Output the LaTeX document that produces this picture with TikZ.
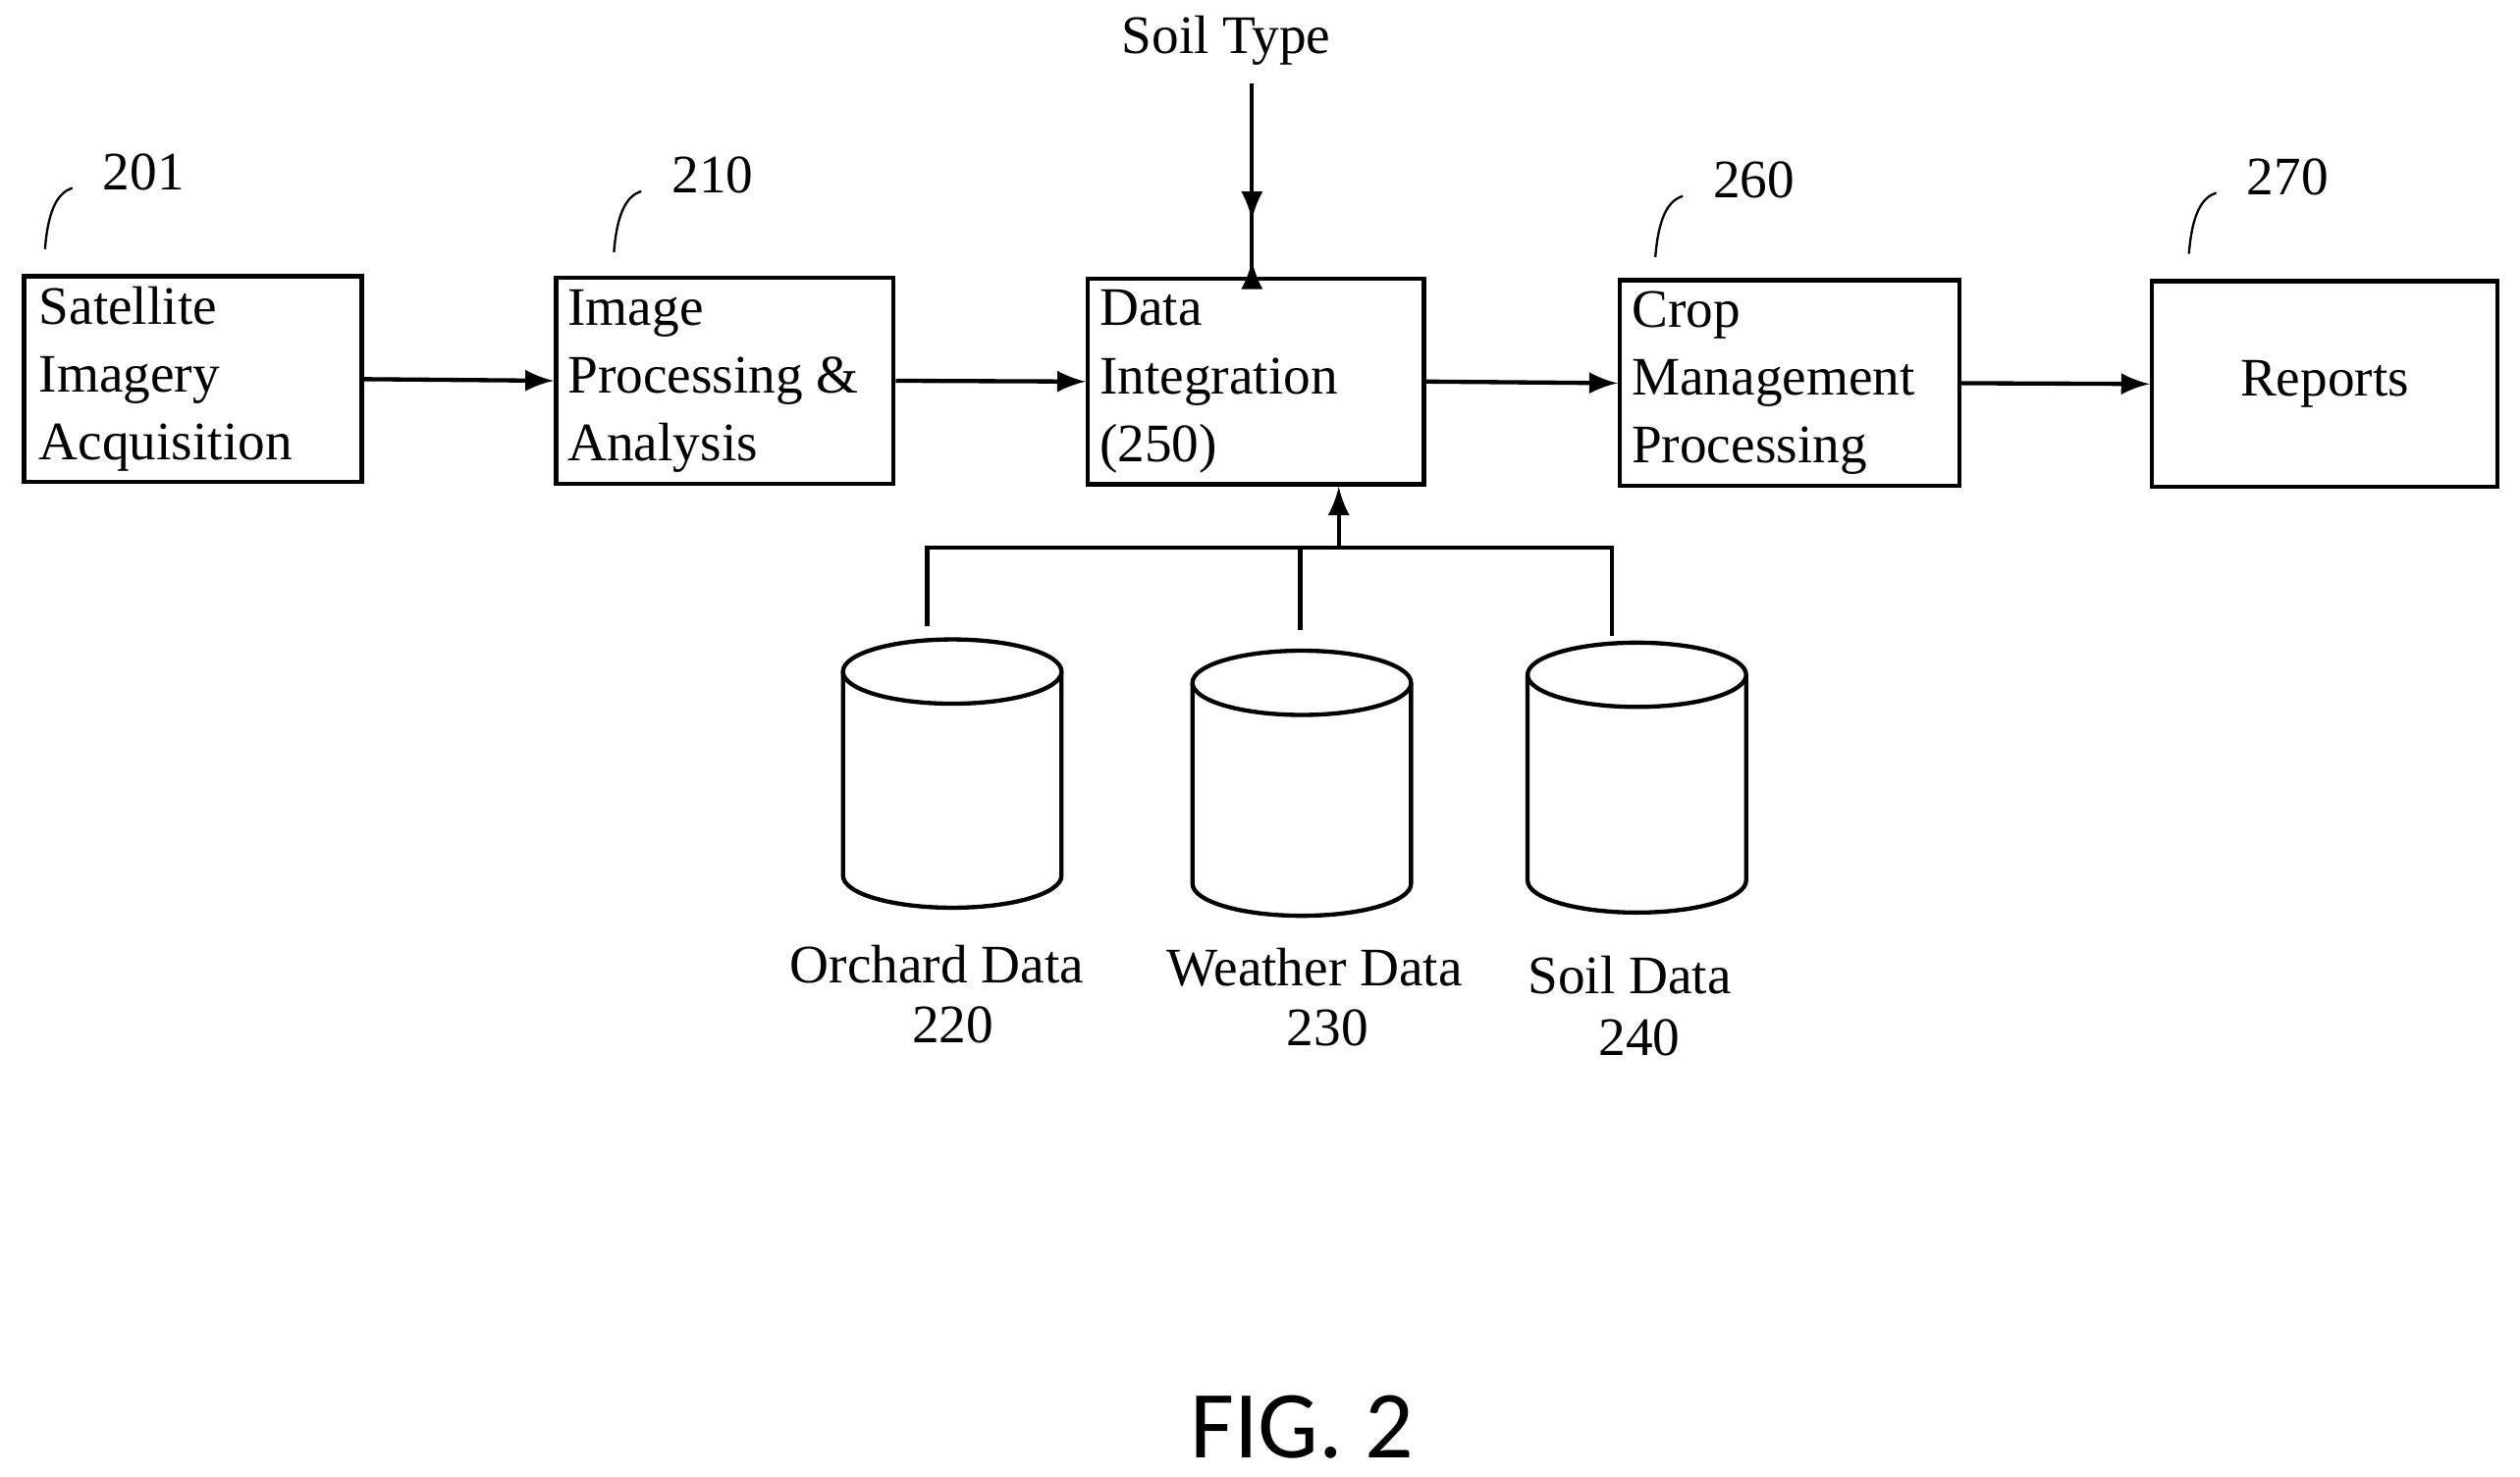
\documentclass[tikz,border=0pt]{standalone}
\usepackage{fontspec}
\setmainfont{Liberation Serif}
\setsansfont{Carlito}
\begin{document}
\begin{tikzpicture}[x=0.01cm,y=-0.01cm,line width=0.75pt,
    font=\fontsize{9.6}{12}\selectfont]

    \tikzset{block/.style={%
      draw,%
      rectangle,%
      minimum width=2.1cm,%
      minimum height=1.28cm,%
      inner sep=0pt}%
    };
    \tikzset{blocktext/.style={%
      align=left,%
      anchor=west,%
      inner sep=0pt}%
    };
    \tikzset{ref/.style={anchor=west}};

    % drum: name, centre x, top y, bottom y
    \newcommand{\drum}[4]{%
      \coordinate (#1) at (#2,#3);
      \draw (#2-68,#3) -- (#2-68,#4)
        arc[start angle=180, end angle=360, x radius=68, y radius=-20]
        -- (#2+68,#3);
      \draw (#2,#3) ellipse[x radius=68, y radius=20];
    }

    \useasboundingbox (0,0) rectangle (1568,919);

    %%%%%%%%%%%%%%%
    % main blocks %
    %%%%%%%%%%%%%%%
    \node [block] (sat) at (120,236) {};
    \node [blocktext] at (23,236) {Satellite\\Imagery\\Acquisition};

    \node [block] (img) at (451,237) {};
    \node [blocktext] at (352,237) {Image\\Processing \&\\Analysis};

    \node [block, minimum width=2.09cm] (integ) at (781.5,237.5) {};
    \node [blocktext] at (683,237.5) {Data\\Integration\\(250)};

    \node [block, minimum width=2.11cm] (crop) at (1113.5,238.5) {};
    \node [blocktext] at (1014,238.5) {Crop\\Management\\Processing};

    \node [block, minimum width=2.15cm] (rep) at (1446.5,239) {Reports};

    % reference numbers
    \foreach \x/\y/\n in {28/155/201, 382/157/210, 1030/160/260, 1362/158/270} {
      \draw [thin] (\x,\y) .. controls (\x+2,\y-25) and (\x+8,\y-35) .. (\x+17,\y-38);
      \node [ref] at (\x+23,\y-48) {\n};
    }

    \node (soil) at (763,25) {Soil Type};
    \coordinate (st) at (779,52);
    \draw [->, >=latex] (st) -- (st |- integ.north) ++(0,-10);
    \draw [->, >=latex] (st) -- ([yshift=10]st |- integ.north);

    \draw [->, >=latex] (sat.east) -- (img.west);
    \draw [->, >=latex] (img.east) -- (integ.west);
    \draw [->, >=latex] (integ.east) -- (crop.west);
    \draw [->, >=latex] (crop.east) -- (rep.west);

    %%%%%%%%%%%%%%%
    % data stores %
    %%%%%%%%%%%%%%%
    \drum{orch}{592.5}{418}{545}
    \drum{wea}{810}{425}{550}
    \drum{sdat}{1018.5}{420}{548}

    \node (orchl) at (583,600) {Orchard Data};
    \node at (593,638) {220};
    \node (weal) at (818,602) {Weather Data};
    \node at (826,640) {230};
    \node (sdatl) at (1014,607) {Soil Data};
    \node at (1020,646) {240};

    \coordinate (bus) at (833,341);
    \draw (577,390) -- (577,341) -- (1003,341) -- (1003,396);
    \draw (809,392) -- (809,341);
    \draw [->, >=latex] (bus) -- (bus |- integ.south);

    \node [font=\sffamily\fontsize{17}{20}\selectfont] (fig) at (810,888) {FIG. 2};

\end{tikzpicture}
\end{document}
